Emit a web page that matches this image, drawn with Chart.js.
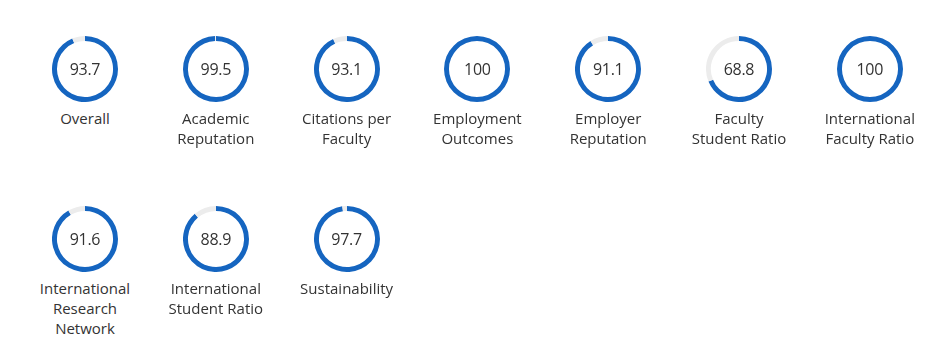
<!DOCTYPE html>
<html>
<head>
<meta charset="utf-8">
<script src="https://cdn.jsdelivr.net/npm/chart.js@4"></script>
<style>
    body {
        margin: 0;
        width: 944px;
        height: 352px;
        background: #ffffff;
        font-family: "Open Sans", sans-serif;
        position: relative;
        overflow: hidden;
    }
    .gauge {
        position: absolute;
        width: 130px;
        text-align: center;
    }
    .ring {
        position: relative;
        width: 66px;
        height: 66px;
        margin: 0 auto;
    }
    .ring canvas {
        display: block;
    }
    .value {
        position: absolute;
        left: 0;
        top: 0;
        width: 66px;
        line-height: 66px;
        font-size: 16px;
        color: #333333;
        letter-spacing: -0.3px;
    }
    .label {
        margin-top: 6px;
        font-size: 15px;
        line-height: 20px;
        color: #333333;
    }
</style>
</head>
<body>
<div id="gauges"></div>
<script>
const labels = [
    ["Overall"],
    ["Academic", "Reputation"],
    ["Citations per", "Faculty"],
    ["Employment", "Outcomes"],
    ["Employer", "Reputation"],
    ["Faculty", "Student Ratio"],
    ["International", "Faculty Ratio"],
    ["International", "Research", "Network"],
    ["International", "Student Ratio"],
    ["Sustainability"]
];
const scores = [93.7, 99.5, 93.1, 100, 91.1, 68.8, 100, 91.6, 88.9, 97.7];
const maxScore = 100;

const BLUE = "#1565c0";
const TRACK = "#ececec";

const container = document.getElementById("gauges");

/* ---------------- LAYOUT ---------------- */

const perRow = 7;
const firstX = 85;
const stepX = 130.8;
const rowY = [36, 206];

scores.forEach((score, i) => {
    const col = i % perRow;
    const row = Math.floor(i / perRow);

    const box = document.createElement("div");
    box.className = "gauge";
    box.style.left = (firstX + col * stepX - 65) + "px";
    box.style.top = rowY[row] + "px";

    const ring = document.createElement("div");
    ring.className = "ring";
    const canvas = document.createElement("canvas");
    canvas.width = 66;
    canvas.height = 66;
    ring.appendChild(canvas);

    const value = document.createElement("div");
    value.className = "value";
    value.textContent = score;
    ring.appendChild(value);

    const label = document.createElement("div");
    label.className = "label";
    label.innerHTML = labels[i].join("<br>");

    box.appendChild(ring);
    box.appendChild(label);
    container.appendChild(box);

    new Chart(canvas, {
        type: "doughnut",
        data: {
            labels: ["Score", "Remaining"],
            datasets: [{
                data: [score, maxScore - score],
                backgroundColor: [BLUE, TRACK],
                borderWidth: 0
            }]
        },
        options: {
            responsive: false,
            animation: false,
            cutout: "85%",
            rotation: 0,
            events: [],
            plugins: {
                legend: { display: false },
                tooltip: { enabled: false }
            }
        }
    });
});
</script>
</body>
</html>
